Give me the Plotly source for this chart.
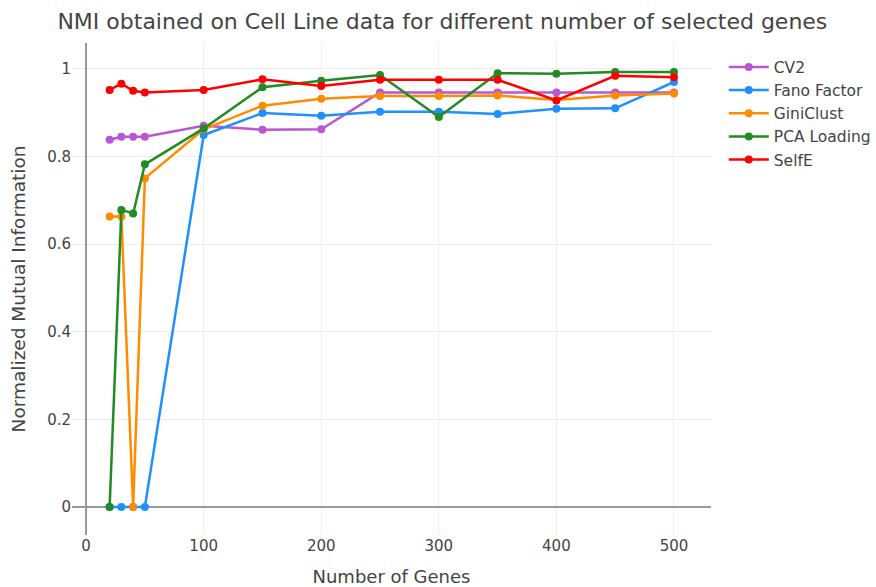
import plotly.graph_objects as go

# Number of selected genes
genes = [20, 30, 40, 50, 100, 150, 200, 250, 300, 350, 400, 450, 500]

# NMI per gene-selection method
cv2 = [0.838, 0.845, 0.845, 0.845, 0.870, 0.861, 0.862, 0.946, 0.946, 0.946, 0.946, 0.946, 0.946]
fano = [0.0, 0.0, 0.0, 0.0, 0.849, 0.899, 0.893, 0.902, 0.902, 0.897, 0.909, 0.910, 0.970]
giniclust = [0.663, 0.663, 0.0, 0.750, 0.862, 0.916, 0.932, 0.938, 0.938, 0.939, 0.929, 0.939, 0.944]
pca_loading = [0.0, 0.678, 0.670, 0.782, 0.864, 0.958, 0.973, 0.986, 0.890, 0.990, 0.989, 0.993, 0.993]
selfe = [0.952, 0.966, 0.950, 0.946, 0.952, 0.976, 0.961, 0.975, 0.975, 0.975, 0.928, 0.984, 0.981]

series = [
    ("CV2", cv2, "#BA55D3"),
    ("Fano Factor", fano, "#1E90FF"),
    ("GiniClust", giniclust, "#FF8C00"),
    ("PCA Loading", pca_loading, "#228B22"),
    ("SelfE", selfe, "#FF0000"),
]

FONT = "DejaVu Sans"

fig = go.Figure()
for name, vals, color in series:
    fig.add_trace(go.Scatter(
        x=genes, y=vals, name=name, mode="lines+markers",
        line=dict(color=color, width=2.5),
        marker=dict(color=color, size=8),
    ))

fig.update_layout(
    width=876, height=587,
    margin=dict(l=72, r=165, t=43, b=52, autoexpand=False),
    paper_bgcolor="white", plot_bgcolor="white",
    font=dict(family=FONT, color="#444", size=15),
    title=dict(
        text="NMI obtained on Cell Line data for different number of selected genes",
        x=0.505, xanchor="center", y=0.963, yanchor="middle",
        font=dict(family=FONT, size=22, color="#444"),
    ),
    legend=dict(font=dict(family=FONT, size=15.5, color="#444"),
                x=1.02, y=0.985, xanchor="left", yanchor="top",
                itemwidth=40, tracegroupgap=0),
    showlegend=True,
)
fig.update_xaxes(
    title=dict(text="Number of Genes", font=dict(size=18), standoff=24),
    range=[-12, 531.5], tickvals=[0, 100, 200, 300, 400, 500],
    tickfont=dict(size=15), automargin=False,
    showgrid=True, gridcolor="#eeeeee", gridwidth=1,
    zeroline=True, zerolinecolor="#999999", zerolinewidth=2,
    showline=False, ticks="",
)
fig.update_yaxes(
    title=dict(text="Normalized Mutual Information", font=dict(size=18.5), standoff=16),
    range=[-0.064, 1.059], tickvals=[0, 0.2, 0.4, 0.6, 0.8, 1],
    ticktext=["0", "0.2", "0.4", "0.6", "0.8", "1"],
    tickfont=dict(size=15), automargin=False,
    showgrid=True, gridcolor="#eeeeee", gridwidth=1,
    zeroline=True, zerolinecolor="#999999", zerolinewidth=2,
    showline=False, ticks="",
)

fig.write_html("out.html")
